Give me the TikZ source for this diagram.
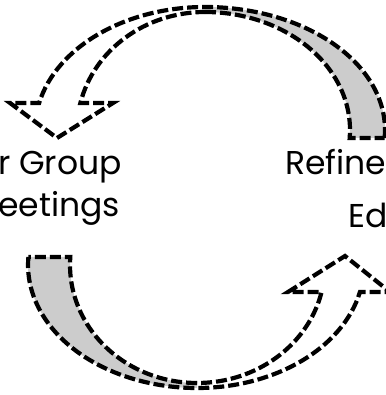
\documentclass[tikz,border=0pt]{standalone}
\usepackage{fontspec}
\setmainfont{Poppins}

\begin{document}
\begin{tikzpicture}[x=1pt,y=1pt,
dashline/.style={line width=4.2pt,dash pattern=on 11pt off 4pt,line join=miter},
backpart/.style={fill=black!20},
lbl/.style={font=\fontsize{33}{40}\selectfont,inner sep=0pt,anchor=base west}]
\useasboundingbox (0,0) rectangle (385,395);

% top arrow
\coordinate (ttail) at (384.6,257);
\coordinate (ttop) at (205,383);
\coordinate (tshaft) at (80.4,292);
\fill[backpart] (ttail) arc[start angle=-3.73,end angle=90,x radius=180,y radius=123]
-- (ttop) arc[start angle=90,end angle=-3.89,x radius=145,y radius=118] -- cycle;
\draw[dashline] (ttail) arc[start angle=-3.73,end angle=90,x radius=180,y radius=123]
arc[start angle=90,end angle=167.3,x radius=170,y radius=123]
-- (10,292) -- (57,257) -- (113,292) -- (tshaft)
arc[start angle=166.77,end angle=90,x radius=128,y radius=118];
\draw[dashline] (ttop) arc[start angle=90,end angle=-3.89,x radius=145,y radius=118] -- (ttail);

% bottom arrow
\coordinate (btail) at (28.4,138);
\coordinate (bbot) at (197,12);
\coordinate (bshaft) at (321.6,103);
\fill[backpart] (btail) arc[start angle=176.27,end angle=270,x radius=169,y radius=123]
-- (bbot) arc[start angle=270,end angle=176.11,x radius=127,y radius=118] -- cycle;
\draw[dashline] (btail) arc[start angle=176.27,end angle=270,x radius=169,y radius=123]
arc[start angle=270,end angle=347.3,x radius=167,y radius=123]
-- (390,103) -- (345,139) -- (288,103) -- (bshaft)
arc[start angle=346.77,end angle=270,x radius=128,y radius=118];
\draw[dashline] (bbot) arc[start angle=270,end angle=176.11,x radius=127,y radius=118] -- (btail);

% labels
\node[lbl] (grp) at (-2,220) {r Group};
\node[lbl] (mtg) at (-2,178) {eetings};
\node[lbl] (ref) at (285,220) {Refine};
\node[lbl] (ed) at (348.5,167) {Ed};
\end{tikzpicture}
\end{document}
